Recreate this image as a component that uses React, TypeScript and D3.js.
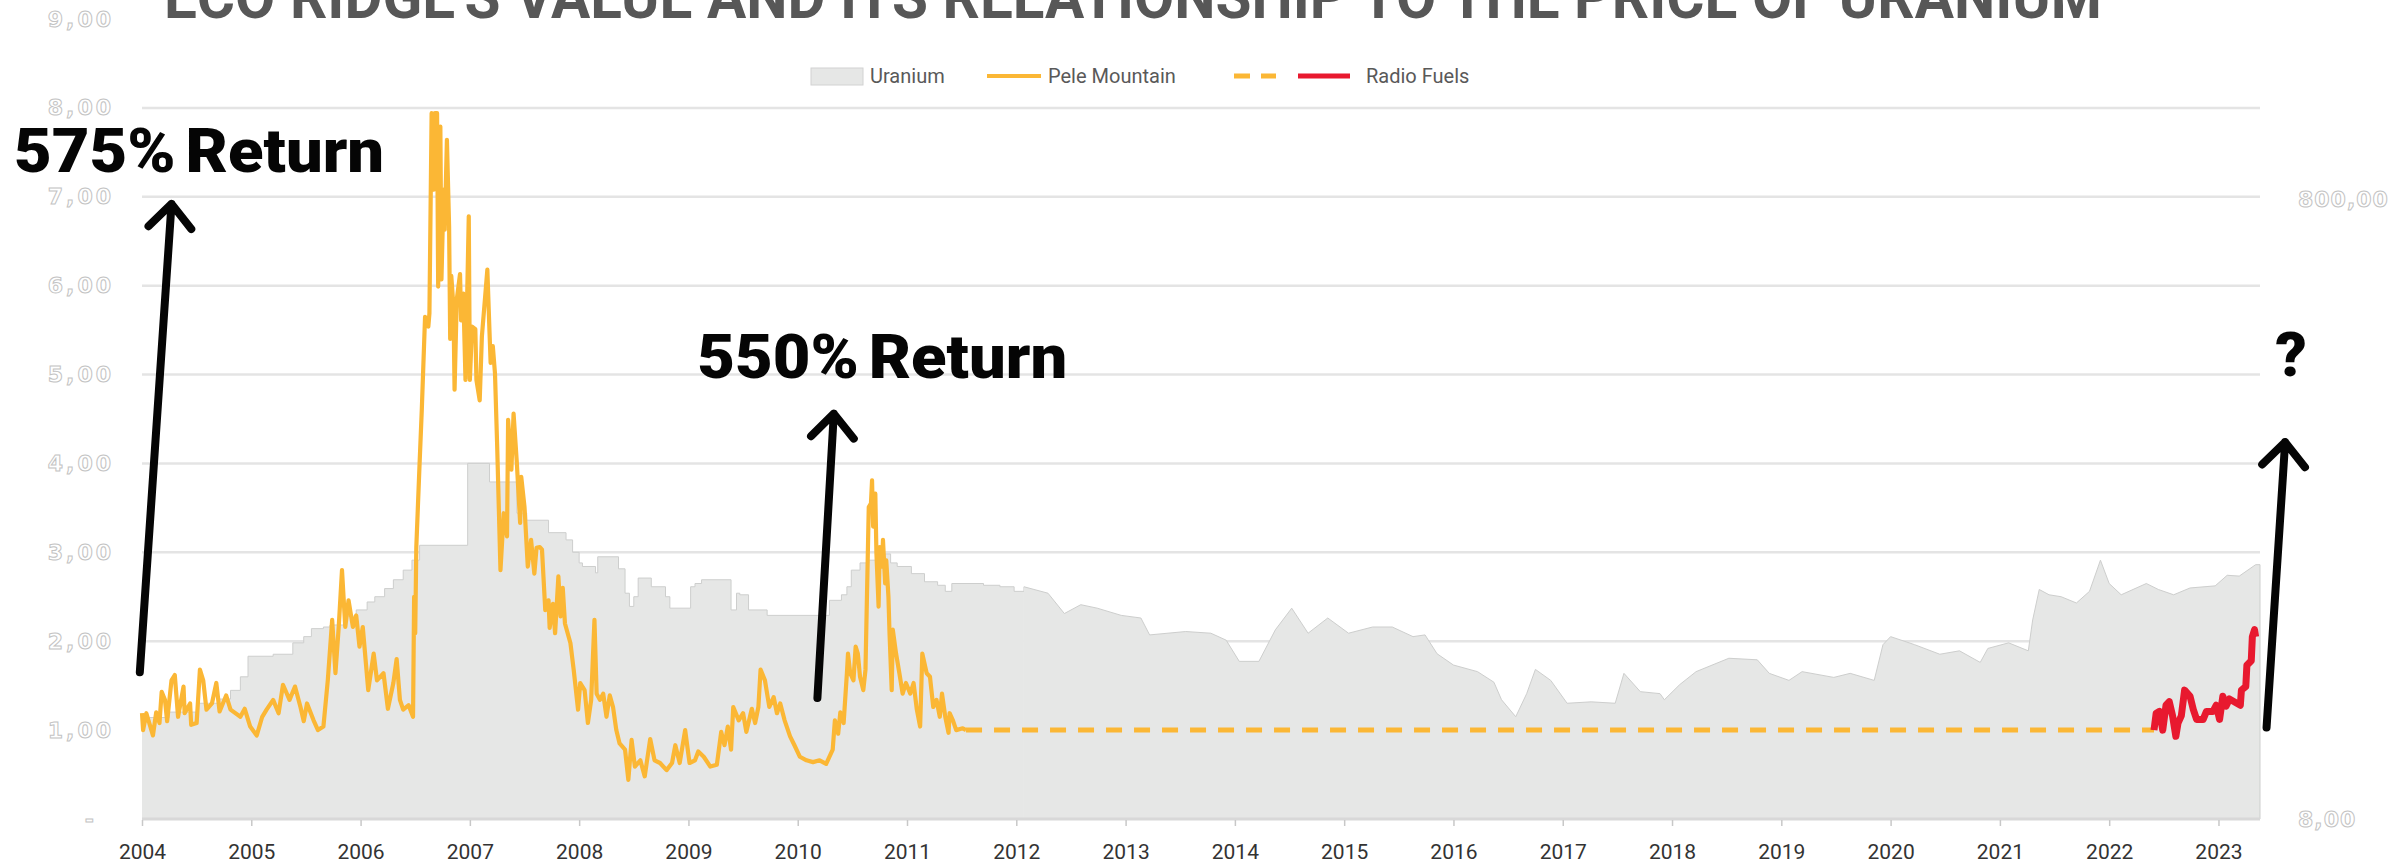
import { useEffect, useRef } from "react";
import * as d3 from "d3";

// uranium spot price, $/lb (right axis, log scale)
const uraniumYears = [
  2004.0, 2004.25, 2004.5, 2004.7, 2004.81, 2004.9, 2004.97, 2005.2, 2005.38, 2005.48,
  2005.55, 2005.66, 2005.72, 2005.87, 2005.96, 2006.06, 2006.13, 2006.22, 2006.3, 2006.39,
  2006.47, 2006.54, 2006.98, 2007.18, 2007.43, 2007.52, 2007.72, 2007.88, 2007.94, 2008.0,
  2008.03, 2008.15, 2008.17, 2008.36, 2008.42, 2008.46, 2008.5, 2008.54, 2008.66, 2008.79,
  2008.83, 2009.02, 2009.06, 2009.12, 2009.39, 2009.44, 2009.47, 2009.55, 2009.72, 2010.29,
  2010.4, 2010.45, 2010.49, 2010.57, 2010.65, 2010.72, 2010.85, 2010.91, 2011.04, 2011.16,
  2011.28, 2011.35, 2011.41, 2011.7, 2011.85, 2011.98, 2012.07, 2012.29, 2012.44, 2012.59,
  2012.74, 2012.96, 2013.14, 2013.22, 2013.55, 2013.78, 2013.92, 2014.04, 2014.22, 2014.37,
  2014.52, 2014.67, 2014.85, 2015.04, 2015.26, 2015.44, 2015.63, 2015.74, 2015.85, 2016.0,
  2016.22, 2016.37, 2016.44, 2016.57, 2016.67, 2016.75, 2016.89, 2017.04, 2017.26, 2017.48,
  2017.56, 2017.71, 2017.89, 2017.93, 2018.07, 2018.22, 2018.52, 2018.78, 2018.89, 2019.07,
  2019.19, 2019.48, 2019.63, 2019.85, 2019.93, 2020.0, 2020.22, 2020.45, 2020.63, 2020.82,
  2020.89, 2021.08, 2021.26, 2021.3, 2021.36, 2021.45, 2021.56, 2021.7, 2021.82, 2021.92,
  2022.0, 2022.11, 2022.34, 2022.45, 2022.59, 2022.74, 2022.97, 2023.08, 2023.19, 2023.34,
  2023.38,
];
const uraniumPrices = [
  17.0, 17.7, 18.9, 19.5, 20.8, 23.0, 26.8, 27.2, 29.6, 31.0,
  32.9, 33.3, 33.8, 36.1, 37.8, 40.1, 41.7, 44.3, 47.3, 50.8,
  54.7, 61.1, 112.3, 97.8, 77.6, 73.6, 67.1, 63.6, 58.0, 53.6,
  52.2, 49.8, 56.1, 51.3, 42.8, 38.8, 41.7, 47.9, 44.9, 41.7,
  38.3, 44.9, 46.0, 47.3, 37.8, 42.8, 42.3, 37.8, 36.3, 40.6,
  42.3, 44.9, 50.8, 53.6, 54.7, 57.3, 53.6, 52.2, 49.5, 46.6,
  45.4, 43.4, 46.0, 45.4, 44.9, 43.4, 44.9, 42.8, 36.8, 39.3,
  38.3, 36.3, 35.6, 31.4, 32.2, 31.8, 30.2, 25.8, 25.8, 32.6,
  38.3, 31.8, 35.6, 31.8, 33.3, 33.3, 31.0, 31.4, 27.3, 25.1,
  23.9, 22.1, 19.4, 17.1, 20.3, 24.3, 22.4, 18.9, 19.1, 18.9,
  23.6, 20.6, 20.3, 19.4, 21.7, 23.9, 26.4, 26.1, 23.6, 22.4,
  23.9, 22.9, 23.6, 22.4, 29.2, 31.0, 29.2, 27.2, 27.9, 25.6,
  28.4, 29.6, 27.9, 35.1, 44.0, 42.3, 41.7, 39.8, 43.4, 54.7,
  46.0, 42.3, 46.0, 44.0, 42.3, 44.5, 45.2, 48.9, 48.6, 52.9,
  52.9,
];
// monthly (stepped) prints until early 2012, weekly after
const uraniumStepUntil = 2012.07;

// Pele Mountain (left axis)
const peleYears = [
  2004.0, 2004.01, 2004.04, 2004.1, 2004.13, 2004.16, 2004.18, 2004.21, 2004.23, 2004.27,
  2004.3, 2004.33, 2004.38, 2004.39, 2004.44, 2004.45, 2004.5, 2004.53, 2004.56, 2004.59,
  2004.64, 2004.68, 2004.71, 2004.77, 2004.81, 2004.9, 2004.94, 2004.99, 2005.05, 2005.1,
  2005.14, 2005.2, 2005.25, 2005.29, 2005.35, 2005.4, 2005.45, 2005.48, 2005.51, 2005.57,
  2005.61, 2005.66, 2005.7, 2005.74, 2005.77, 2005.8, 2005.83, 2005.86, 2005.89, 2005.93,
  2005.96, 2005.99, 2006.02, 2006.07, 2006.12, 2006.15, 2006.21, 2006.25, 2006.3, 2006.33,
  2006.36, 2006.39, 2006.44, 2006.48, 2006.49, 2006.5, 2006.51, 2006.54, 2006.56, 2006.59,
  2006.62, 2006.63, 2006.65, 2006.67, 2006.68, 2006.7, 2006.71, 2006.73, 2006.74, 2006.76,
  2006.77, 2006.79, 2006.81, 2006.82, 2006.83, 2006.85, 2006.86, 2006.88, 2006.91, 2006.92,
  2006.94, 2006.96, 2006.99, 2007.0, 2007.02, 2007.05, 2007.06, 2007.09, 2007.11, 2007.14,
  2007.16, 2007.18, 2007.19, 2007.21, 2007.23, 2007.25, 2007.28, 2007.31, 2007.34, 2007.35,
  2007.38, 2007.4, 2007.43, 2007.46, 2007.47, 2007.5, 2007.53, 2007.56, 2007.59, 2007.61,
  2007.64, 2007.66, 2007.69, 2007.72, 2007.73, 2007.76, 2007.78, 2007.81, 2007.83, 2007.85,
  2007.87, 2007.92, 2007.95, 2007.99, 2008.01, 2008.05, 2008.08, 2008.11, 2008.14, 2008.16,
  2008.19, 2008.22, 2008.25, 2008.28, 2008.31, 2008.34, 2008.37, 2008.42, 2008.45, 2008.48,
  2008.51, 2008.56, 2008.6, 2008.65, 2008.69, 2008.74, 2008.8, 2008.85, 2008.88, 2008.92,
  2008.97, 2009.01, 2009.06, 2009.09, 2009.14, 2009.2, 2009.26, 2009.3, 2009.33, 2009.36,
  2009.39, 2009.41, 2009.46, 2009.5, 2009.53, 2009.58, 2009.61, 2009.64, 2009.66, 2009.7,
  2009.74, 2009.78, 2009.81, 2009.84, 2009.88, 2009.93, 2009.97, 2010.02, 2010.08, 2010.14,
  2010.2, 2010.26, 2010.32, 2010.34, 2010.37, 2010.39, 2010.42, 2010.45, 2010.46, 2010.48,
  2010.51, 2010.53, 2010.55, 2010.57, 2010.6, 2010.62, 2010.65, 2010.67, 2010.68, 2010.69,
  2010.71, 2010.72, 2010.74, 2010.75, 2010.77, 2010.78, 2010.8, 2010.81, 2010.83, 2010.84,
  2010.86, 2010.87, 2010.9, 2010.93, 2010.96, 2010.99, 2011.03, 2011.06, 2011.09, 2011.12,
  2011.14, 2011.18, 2011.21, 2011.24, 2011.27, 2011.3, 2011.32, 2011.35, 2011.38, 2011.39,
  2011.42, 2011.45, 2011.51, 2011.54,
];
const peleValues = [
  1.19, 1.0, 1.19, 0.94, 1.2, 1.08, 1.43, 1.34, 1.1, 1.56,
  1.62, 1.15, 1.49, 1.19, 1.3, 1.06, 1.08, 1.68, 1.56, 1.23,
  1.3, 1.53, 1.21, 1.39, 1.23, 1.15, 1.24, 1.04, 0.94, 1.15,
  1.23, 1.34, 1.19, 1.51, 1.34, 1.49, 1.26, 1.1, 1.3, 1.11,
  1.0, 1.04, 1.56, 2.24, 1.64, 2.16, 2.8, 2.16, 2.46, 2.16,
  2.29, 1.94, 2.16, 1.45, 1.86, 1.56, 1.64, 1.24, 1.53, 1.8,
  1.34, 1.23, 1.28, 1.15, 2.5, 2.09, 3.06, 4.0, 4.6, 5.65,
  5.54, 5.69, 7.94, 7.08, 7.94, 7.94, 5.99, 7.79, 6.07, 7.08,
  6.63, 7.64, 6.67, 5.4, 6.11, 5.76, 4.83, 5.84, 6.13, 5.61,
  5.91, 4.94, 6.78, 4.94, 5.54, 5.51, 4.94, 4.71, 5.43, 5.88,
  6.18, 5.47, 5.13, 5.32, 5.01, 4.19, 2.8, 3.44, 3.18, 4.49,
  3.93, 4.56, 4.0, 3.33, 3.85, 3.51, 2.84, 3.14, 2.76, 3.05,
  3.06, 3.03, 2.35, 2.46, 2.15, 2.42, 2.09, 2.73, 2.28, 2.6,
  2.2, 1.98, 1.68, 1.23, 1.53, 1.45, 1.08, 1.34, 2.24, 1.41,
  1.34, 1.41, 1.15, 1.39, 1.26, 1.0, 0.85, 0.78, 0.44, 0.89,
  0.59, 0.66, 0.48, 0.9, 0.66, 0.63, 0.55, 0.63, 0.83, 0.63,
  1.0, 0.63, 0.66, 0.76, 0.7, 0.59, 0.61, 0.98, 0.83, 1.04,
  0.78, 1.26, 1.11, 1.19, 0.98, 1.24, 1.08, 1.26, 1.68, 1.56,
  1.26, 1.37, 1.19, 1.3, 1.11, 0.93, 0.83, 0.7, 0.66, 0.64,
  0.66, 0.62, 0.78, 1.11, 0.96, 1.2, 1.08, 1.64, 1.86, 1.64,
  1.56, 1.94, 1.86, 1.6, 1.45, 1.68, 3.51, 3.55, 3.81, 3.29,
  3.66, 2.99, 2.39, 3.06, 2.84, 3.14, 2.65, 2.91, 2.5, 2.09,
  1.45, 2.13, 1.86, 1.64, 1.41, 1.53, 1.41, 1.53, 1.23, 1.04,
  1.86, 1.64, 1.6, 1.26, 1.34, 1.15, 1.41, 1.15, 0.97, 1.19,
  1.11, 1.0, 1.02, 1.0,
];

// flat projection between Pele Mountain and Radio Fuels
const projectionYears = [2011.54, 2022.41];
const projectionValues = [1.0, 1.0];

// Radio Fuels (left axis)
const radioYears = [
  2022.41, 2022.43, 2022.46, 2022.49, 2022.52, 2022.55, 2022.58, 2022.61, 2022.63, 2022.66,
  2022.69, 2022.74, 2022.77, 2022.8, 2022.86, 2022.89, 2022.95, 2022.98, 2023.01, 2023.04,
  2023.07, 2023.1, 2023.2, 2023.21, 2023.25, 2023.26, 2023.3, 2023.31, 2023.33, 2023.34,
];
const radioValues = [
  1.0, 1.19, 1.21, 1.0, 1.28, 1.32, 1.16, 0.93, 1.08, 1.16,
  1.45, 1.38, 1.23, 1.12, 1.12, 1.21, 1.21, 1.28, 1.12, 1.38,
  1.27, 1.35, 1.28, 1.45, 1.49, 1.73, 1.78, 2.05, 2.13, 2.05,
];

const yearTicks = [
  2004, 2005, 2006, 2007, 2008, 2009, 2010, 2011, 2012, 2013,
  2014, 2015, 2016, 2017, 2018, 2019, 2020, 2021, 2022, 2023,
];
const leftTickValues = [0, 1, 2, 3, 4, 5, 6, 7, 8, 9];
const leftTickLabels = ["-", "1,00", "2,00", "3,00", "4,00", "5,00", "6,00", "7,00", "8,00", "9,00"];
const gridValues = [1, 2, 3, 4, 5, 6, 7, 8];
const rightTickValues = [8, 800];
const rightTickLabels = ["8,00", "800,00"];

const title = "ECO RIDGE'S VALUE AND ITS RELATIONSHIP TO THE PRICE OF URANIUM";

// annotations in data space: [year, left-axis value]
const notes = [
  { text: "575% Return", width: 370, at: [2002.83, 7.28], from: [2003.98, 1.65], to: [2004.27, 6.92] },
  { text: "550% Return", width: 370, at: [2009.08, 4.96], from: [2010.18, 1.36], to: [2010.33, 4.56] },
  { text: "?", width: 0, at: [2023.52, 4.98], from: [2023.44, 1.03], to: [2023.61, 4.24] },
];

const W = 2397;
const H = 863;
const FONT = "Roboto, 'Noto Sans', sans-serif";
const GOLD = "#FBB735";
const RED = "#E8192F";

const App = () => {
  const ref = useRef<SVGSVGElement | null>(null);

  useEffect(() => {
    const svg = d3.select(ref.current);
    svg.selectAll("*").remove();

    const x = d3.scaleLinear().domain([2004, 2023.38]).range([142, 2260]);
    const y = d3.scaleLinear().domain([0, 9]).range([819, 19]);
    const yU = d3.scaleLog().domain([8, 800]).range([819, 199]);

    // gridlines
    svg
      .append("g")
      .selectAll("line")
      .data(gridValues)
      .join("line")
      .attr("x1", x(2004))
      .attr("x2", x(2023.38))
      .attr("y1", (d) => y(d))
      .attr("y2", (d) => y(d))
      .attr("stroke", "#e4e4e4")
      .attr("stroke-width", 2.5);

    // uranium area: stepped monthly part, then weekly part
    const split = uraniumYears.findIndex((d) => d >= uraniumStepUntil);
    const parts = [
      { idx: d3.range(0, split + 1), curve: d3.curveStepAfter },
      { idx: d3.range(split, uraniumYears.length), curve: d3.curveLinear },
    ];
    parts.forEach((p) => {
      const area = d3
        .area<number>()
        .x((i) => x(uraniumYears[i]))
        .y0(y(0))
        .y1((i) => yU(uraniumPrices[i]))
        .curve(p.curve);
      svg.append("path").datum(p.idx).attr("d", area).attr("fill", "#e6e7e6");
      const top = d3
        .line<number>()
        .x((i) => x(uraniumYears[i]))
        .y((i) => yU(uraniumPrices[i]))
        .curve(p.curve);
      svg
        .append("path")
        .datum(p.idx)
        .attr("d", top)
        .attr("fill", "none")
        .attr("stroke", "#cdcecd")
        .attr("stroke-width", 1);
    });
    svg
      .append("line")
      .attr("x1", x(2023.38))
      .attr("x2", x(2023.38))
      .attr("y1", yU(uraniumPrices[uraniumPrices.length - 1]))
      .attr("y2", y(0))
      .attr("stroke", "#cdcecd");

    // x axis
    svg
      .append("line")
      .attr("x1", x(2004))
      .attr("x2", x(2023.38))
      .attr("y1", y(0))
      .attr("y2", y(0))
      .attr("stroke", "#d8d8d8")
      .attr("stroke-width", 3);

    const xAxis = svg
      .append("g")
      .attr("transform", `translate(0,${y(0) + 1})`)
      .call(
        d3
          .axisBottom(x)
          .tickValues(yearTicks)
          .tickFormat(d3.format("d"))
          .tickSize(6)
          .tickPadding(18)
      );
    xAxis.select(".domain").remove();
    xAxis.selectAll("line").attr("stroke", "#c8c8c8").attr("stroke-width", 1.5);
    xAxis
      .selectAll("text")
      .attr("font-family", FONT)
      .attr("font-size", 21)
      .attr("fill", "#333");

    // outlined axis labels
    const outlined = (sel: d3.Selection<SVGTextElement, any, any, any>, ls: number) =>
      sel
        .attr("font-family", "'DejaVu Sans', sans-serif")
        .attr("font-weight", 700)
        .attr("font-size", 22)
        .attr("letter-spacing", ls)
        .attr("fill", "#fff")
        .attr("stroke", "#c3c3c3")
        .attr("stroke-width", 1)
        .attr("dominant-baseline", "central");

    svg
      .append("g")
      .selectAll("text")
      .data(leftTickValues)
      .join("text")
      .attr("x", (d) => (d === 0 ? 97 : 114))
      .attr("y", (d) => y(d))
      .attr("text-anchor", "end")
      .text((_, i) => leftTickLabels[i])
      .call(outlined, 3);

    svg
      .append("g")
      .selectAll("text")
      .data(rightTickValues)
      .join("text")
      .attr("x", 2298)
      .attr("y", (d) => yU(d))
      .attr("text-anchor", "start")
      .text((_, i) => rightTickLabels[i])
      .call(outlined, 1);

    // series
    const line = (xs: number[]) =>
      d3
        .line<number>()
        .x((_, i) => x(xs[i]))
        .y((d) => y(d))
        .curve(d3.curveLinear);

    svg
      .append("path")
      .datum(projectionValues)
      .attr("d", line(projectionYears))
      .attr("fill", "none")
      .attr("stroke", GOLD)
      .attr("stroke-width", 5)
      .attr("stroke-dasharray", "16 12");

    svg
      .append("path")
      .datum(peleValues)
      .attr("d", line(peleYears))
      .attr("fill", "none")
      .attr("stroke", GOLD)
      .attr("stroke-width", 4.2)
      .attr("stroke-linejoin", "round");

    svg
      .append("path")
      .datum(radioValues)
      .attr("d", line(radioYears))
      .attr("fill", "none")
      .attr("stroke", RED)
      .attr("stroke-width", 7)
      .attr("stroke-linejoin", "round");

    // annotations: arrows + labels
    const ann = svg.append("g");
    notes.forEach((n) => {
      const x1 = x(n.from[0]);
      const y1 = y(n.from[1]);
      const x2 = x(n.to[0]);
      const y2 = y(n.to[1]);
      const ang = Math.atan2(y1 - y2, x1 - x2);
      const wing = 32;
      const spread = (42 * Math.PI) / 180;
      const w1 = [x2 + wing * Math.cos(ang - spread), y2 + wing * Math.sin(ang - spread)];
      const w2 = [x2 + wing * Math.cos(ang + spread), y2 + wing * Math.sin(ang + spread)];
      ann
        .append("path")
        .attr("d", `M${x1},${y1}L${x2},${y2}M${w1[0]},${w1[1]}L${x2},${y2}L${w2[0]},${w2[1]}`)
        .attr("fill", "none")
        .attr("stroke", "#050505")
        .attr("stroke-width", 8)
        .attr("stroke-linecap", "round")
        .attr("stroke-linejoin", "round");
      const t = ann
        .append("text")
        .attr("x", x(n.at[0]))
        .attr("y", y(n.at[1]))
        .attr("font-family", FONT)
        .attr("font-weight", 900)
        .attr("font-size", 62)
        .attr("fill", "#050505")
        .attr("word-spacing", -6)
        .text(n.text);
      if (n.width) t.attr("textLength", n.width).attr("lengthAdjust", "spacingAndGlyphs");
    });

    // title (cut at the top edge)
    svg
      .append("text")
      .attr("x", 164)
      .attr("y", 18)
      .attr("font-family", FONT)
      .attr("font-weight", 700)
      .attr("font-size", 62)
      .attr("fill", "#575757")
      .attr("textLength", 1938)
      .attr("lengthAdjust", "spacingAndGlyphs")
      .text(title);

    // legend
    const lg = svg.append("g").attr("font-family", FONT).attr("font-size", 20).attr("fill", "#595959");
    const ly = 76;
    lg.append("rect")
      .attr("x", 811)
      .attr("y", 68)
      .attr("width", 52)
      .attr("height", 17)
      .attr("fill", "#e6e7e6")
      .attr("stroke", "#d2d2d2");
    lg.append("text").attr("x", 870).attr("y", ly).attr("dominant-baseline", "central").text("Uranium");
    lg.append("line")
      .attr("x1", 987)
      .attr("x2", 1041)
      .attr("y1", ly)
      .attr("y2", ly)
      .attr("stroke", GOLD)
      .attr("stroke-width", 4);
    lg.append("text").attr("x", 1048).attr("y", ly).attr("dominant-baseline", "central").text("Pele Mountain");
    lg.append("line")
      .attr("x1", 1234)
      .attr("x2", 1276)
      .attr("y1", ly)
      .attr("y2", ly)
      .attr("stroke", GOLD)
      .attr("stroke-width", 5)
      .attr("stroke-dasharray", "16 11");
    lg.append("line")
      .attr("x1", 1298)
      .attr("x2", 1350)
      .attr("y1", ly)
      .attr("y2", ly)
      .attr("stroke", RED)
      .attr("stroke-width", 5);
    lg.append("text").attr("x", 1366).attr("y", ly).attr("dominant-baseline", "central").text("Radio Fuels");
  }, []);

  return (
    <svg
      ref={ref}
      width={W}
      height={H}
      style={{ position: "absolute", left: 0, top: 0, background: "#fff" }}
    />
  );
};

export default App;
